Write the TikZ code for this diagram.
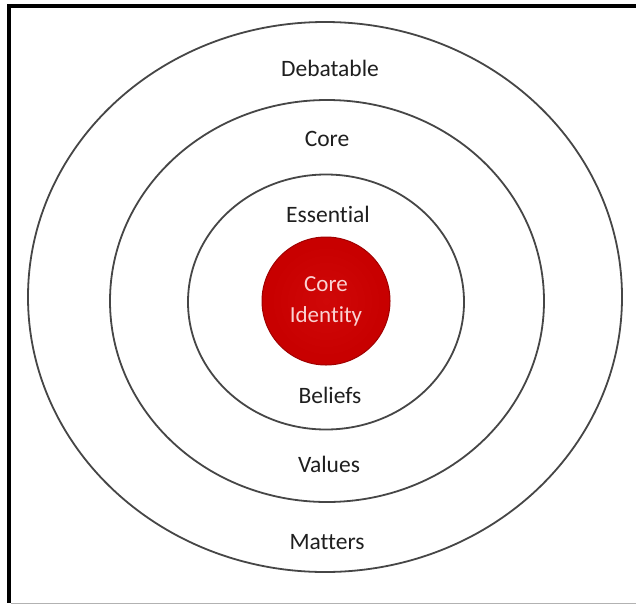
\documentclass[tikz,border=0pt]{standalone}
\usepackage{fontspec}
\setmainfont[Ligatures={NoCommon}]{Carlito}
\usetikzlibrary{shapes.geometric}
\definecolor{ringgray}{RGB}{70,70,70}
\definecolor{corered}{RGB}{208,8,8}
\definecolor{coremid}{RGB}{200,0,0}
\definecolor{coreedge}{RGB}{160,0,0}
\definecolor{coretext}{RGB}{250,210,210}
\begin{document}
\begin{tikzpicture}[x=1pt,y=-1pt,
  ring/.style={ellipse,draw=ringgray,line width=1.8pt,inner sep=0pt},
  lbl/.style={font=\fontsize{23.5}{27}\selectfont,text=black!88},
  corelbl/.style={font=\fontsize{23}{31}\selectfont,text=coretext,align=center}]
\useasboundingbox (0,0) rectangle (636,605);
\fill[white] (0,0) rectangle (636,605);
% frame
\draw[line width=4pt,black] (9,6) -- (636,6);
\draw[line width=4pt,black] (9,4) -- (9,603);
\draw[line width=1.5pt,black!30] (11,603.5) -- (636,603.5);
% rings
\node[ring,minimum width=594,minimum height=550] (outer) at (325,297) {};
\node[ring,minimum width=434,minimum height=402] (middle) at (327,301) {};
\node[ring,minimum width=276,minimum height=255] (inner) at (326,302) {};
% core
\node[circle,minimum size=128,inner sep=0pt,draw=coreedge,line width=1pt,
  fill=coremid] (core) at (326,301) {};
\shade[inner color=corered,outer color=coremid] (326,301) circle (56);
\node[corelbl] (corelabel) at (326,301) {Core\\Identity};
% labels
\node[lbl] (debatable) at (330,68) {Debatable};
\node[lbl] (corel) at (327,139) {Core};
\node[lbl] (essential) at (328,214) {Essential};
\node[lbl] (beliefs) at (330,395) {Beliefs};
\node[lbl] (values) at (329,464) {Values};
\node[lbl] (matters) at (327,542) {Matters};
\end{tikzpicture}
\end{document}
